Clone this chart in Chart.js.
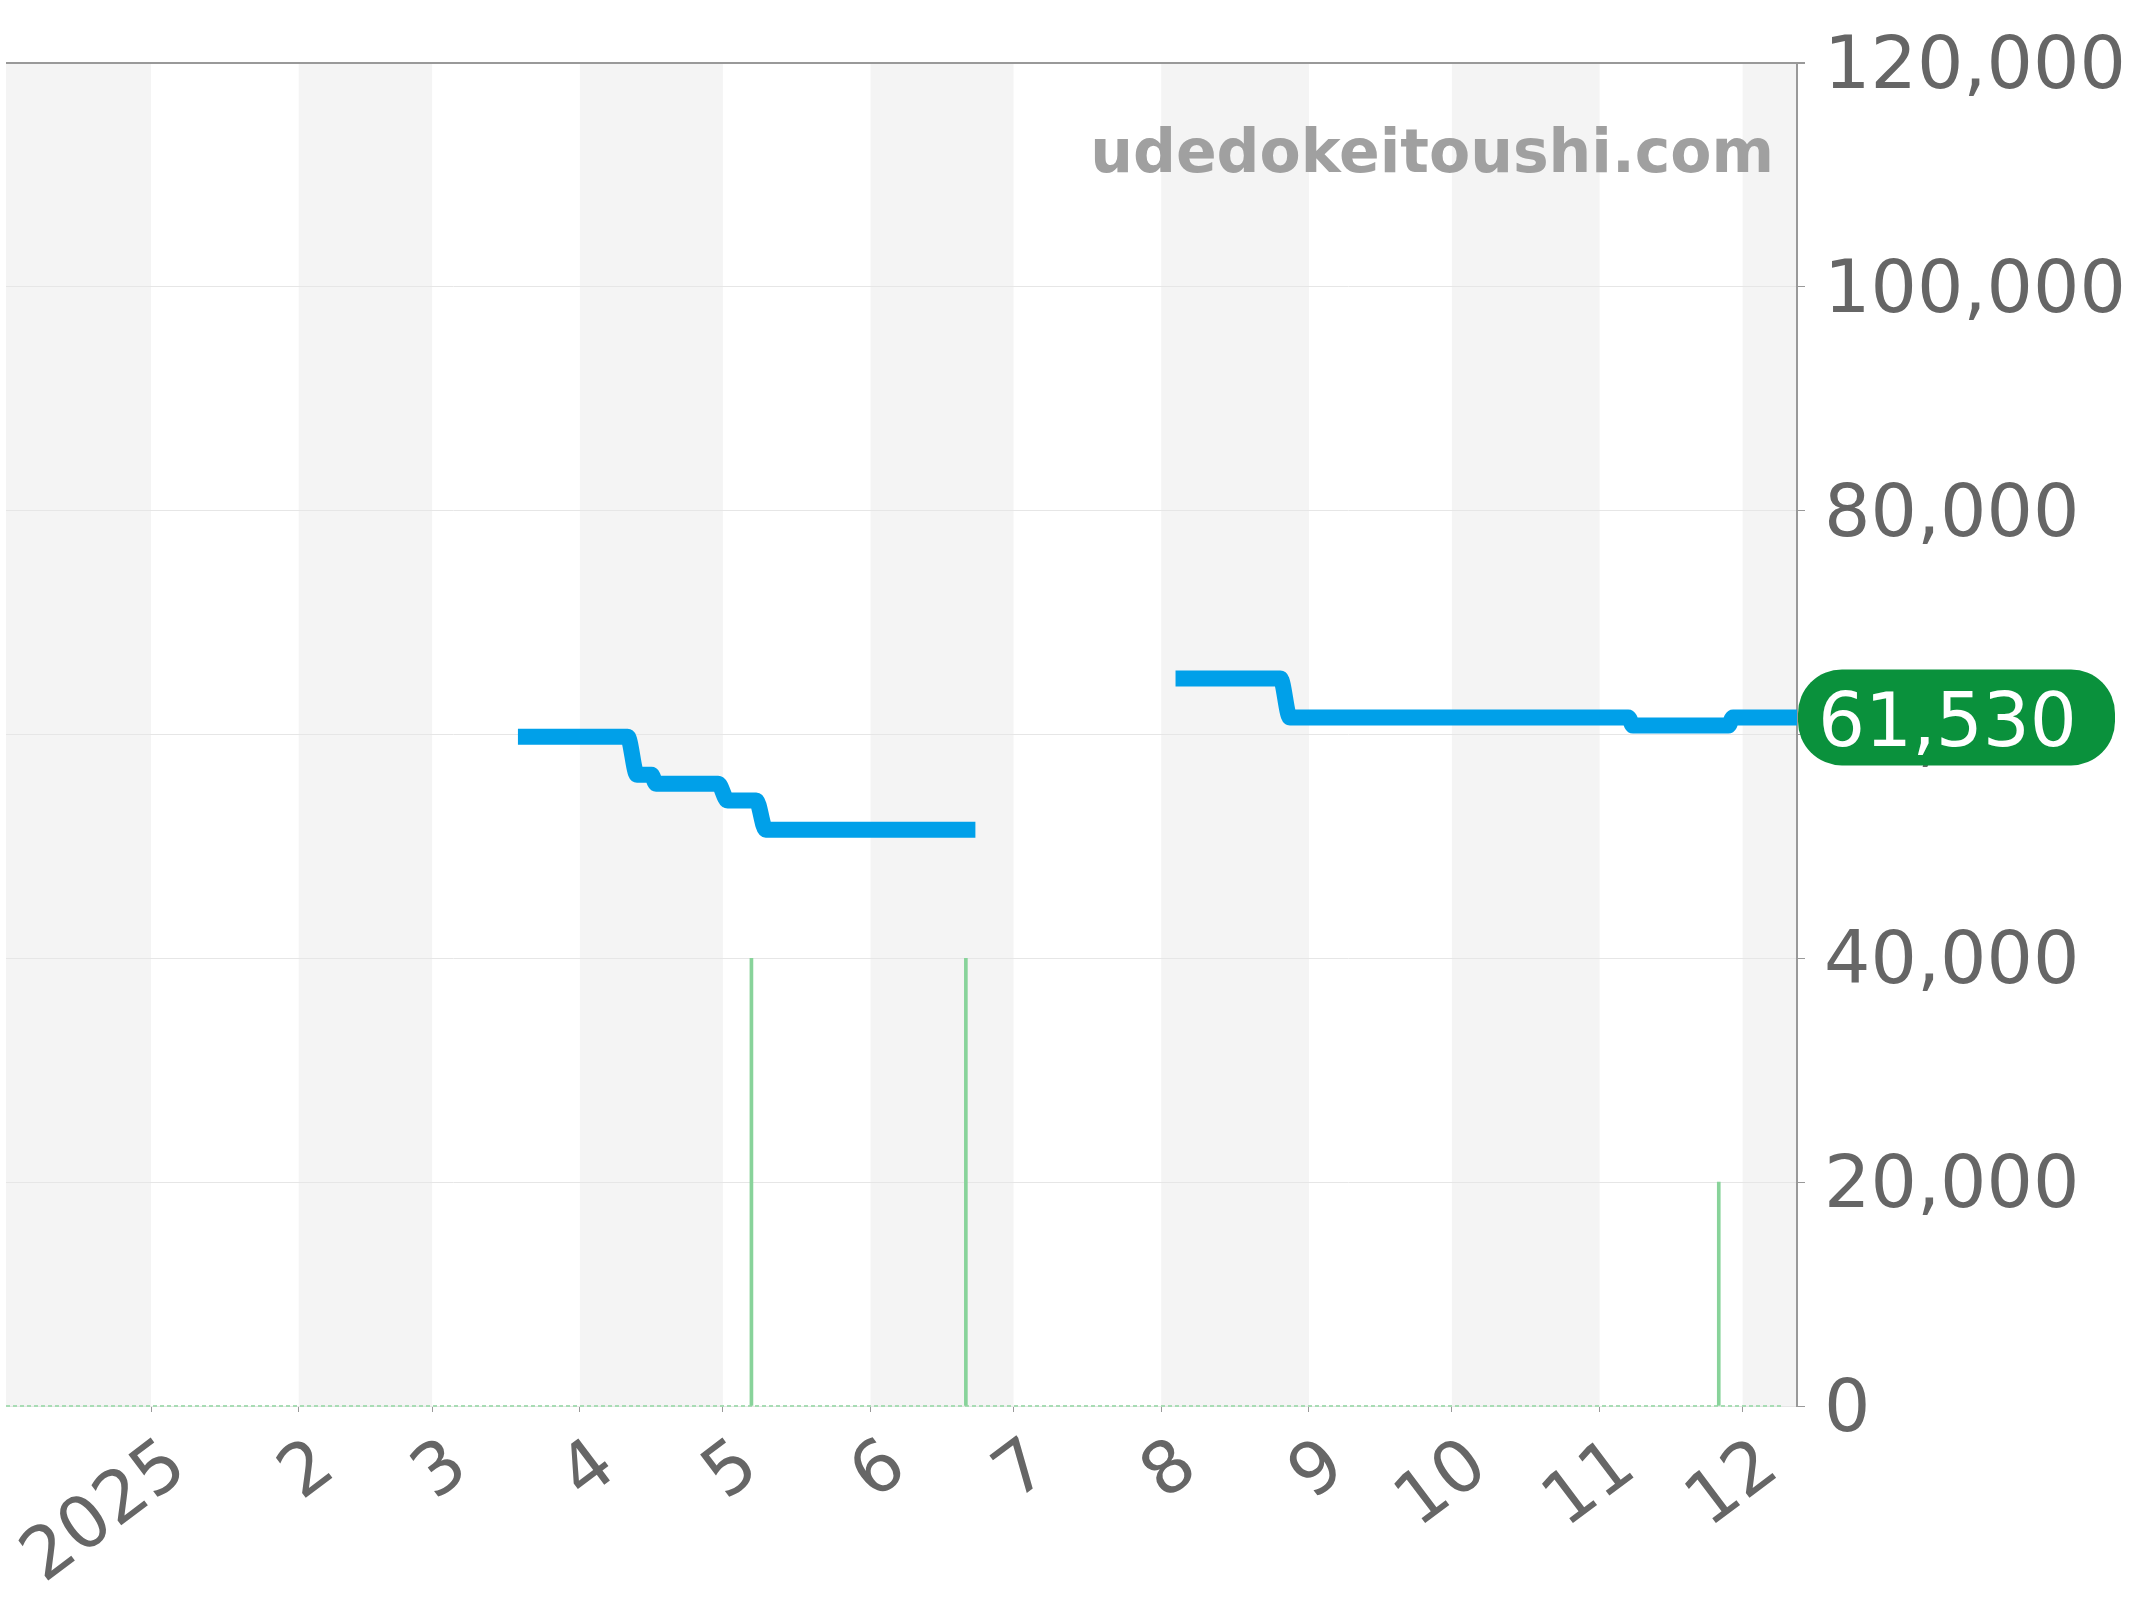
<!DOCTYPE html>
<html><head><meta charset="utf-8">
<script src="https://cdn.jsdelivr.net/npm/chart.js@4/dist/chart.umd.min.js"></script>
<style>html,body{margin:0;padding:0;background:#fff;}#wrap{width:2144px;height:1600px;}</style>
</head><body><div id="wrap"><canvas id="c" width="2144" height="1600"></canvas></div>
<script>
// ---- data ----
const priceDates = ['2025-03-19','2025-04-11','2025-04-13','2025-04-16','2025-04-17','2025-04-30','2025-05-02','2025-05-08','2025-05-10','2025-06-23',
                    '2025-07-15',
                    '2025-08-04','2025-08-26','2025-08-28','2025-11-07','2025-11-08','2025-11-28','2025-11-29','2025-12-13'];
const priceValues = [59800,59800,56400,56400,55600,55600,54100,54100,51500,51500,
                     null,
                     65000,65000,61530,61530,60800,60800,61530,61530];
const volumeDates = ['2025-05-07','2025-06-21','2025-11-26'];
const volumeValues = [40000,40000,20000];
const monthTickDates = ['2025-01-01','2025-02-01','2025-03-01','2025-04-01','2025-05-01','2025-06-01','2025-07-01','2025-08-01','2025-09-01','2025-10-01','2025-11-01','2025-12-01'];
const monthTickLabels = ['2025','2','3','4','5','6','7','8','9','10','11','12'];
const shadedMonthStarts = ['2024-12-01','2025-02-01','2025-04-01','2025-06-01','2025-08-01','2025-10-01','2025-12-01'];
const yTickValues = [0,20000,40000,60000,80000,100000,120000];
const xRange = ['2024-12-01T13:40:00','2025-12-12T10:00:00'];
const lastPrice = 61530;
const watermarkText = 'udedokeitoushi.com';

// ---- helpers ----
const EPOCH = Date.UTC(2025,0,1);
const day = s => (Date.parse(s.length === 10 ? s + 'T00:00:00Z' : s + 'Z') - EPOCH) / 864e5;
const nextMonth = s => { const d = new Date(s + 'T00:00:00Z'); return (Date.UTC(d.getUTCFullYear(), d.getUTCMonth()+1, 1) - EPOCH) / 864e5; };
const FONT = "'DejaVu Sans', sans-serif";

const bandsPlugin = {
  id: 'bands',
  beforeDraw(chart) {
    const {ctx, chartArea: a, scales: {x}} = chart;
    ctx.save();
    ctx.fillStyle = '#f4f4f4';
    shadedMonthStarts.forEach(s => {
      let x0 = Math.max(x.getPixelForValue(day(s)), a.left);
      let x1 = Math.min(x.getPixelForValue(nextMonth(s)), a.right);
      if (x1 > x0) ctx.fillRect(x0, a.top, x1 - x0, a.bottom - a.top);
    });
    ctx.restore();
  },
  beforeDatasetsDraw(chart) {
    const {ctx, chartArea: a, scales: {y}} = chart;
    ctx.save();
    ctx.font = "bold 60px " + FONT;
    ctx.fillStyle = '#a0a0a0';
    ctx.textAlign = 'right';
    ctx.textBaseline = 'alphabetic';
    ctx.fillText(watermarkText, a.right - 23, a.top + 109);
    const y0 = y.getPixelForValue(0);
    ctx.strokeStyle = '#a8dcb4';
    ctx.lineWidth = 2;
    ctx.setLineDash([4,3]);
    ctx.beginPath();
    ctx.moveTo(a.left, y0);
    ctx.lineTo(a.right - 15, y0);
    ctx.stroke();
    ctx.restore();
  },
  afterDraw(chart) {
    const {ctx, scales: {y}} = chart;
    const cy = y.getPixelForValue(lastPrice);
    const x0 = y.left + 1, x1 = x0 + 317, h = 96, r = 44;
    ctx.save();
    ctx.fillStyle = '#0a913c';
    ctx.beginPath();
    ctx.roundRect(x0, cy - h/2, x1 - x0, h, r);
    ctx.fill();
    ctx.fillStyle = '#ffffff';
    ctx.font = "74px " + FONT;
    ctx.textAlign = 'left';
    ctx.textBaseline = 'alphabetic';
    ctx.fillText(lastPrice.toLocaleString('en-US'), x0 + 20, cy + 29);
    ctx.restore();
  }
};

new Chart(document.getElementById('c'), {
  type: 'line',
  data: {
    datasets: [
      {
        type: 'line',
        data: priceDates.map((d, i) => ({x: day(d), y: priceValues[i]})),
        borderColor: '#00a0e9',
        borderWidth: 16,
        pointRadius: 0,
        borderJoinStyle: 'round',
        borderCapStyle: 'butt',
        cubicInterpolationMode: 'monotone',
        spanGaps: false,
        fill: false,
        order: 1
      },
      {
        type: 'bar',
        data: volumeDates.map((d, i) => ({x: day(d), y: volumeValues[i]})),
        backgroundColor: '#88d39a',
        barThickness: 3,
        order: 2
      }
    ]
  },
  options: {
    responsive: false,
    animation: false,
    devicePixelRatio: 1,
    layout: {padding: {left: 6, top: 63, right: 0, bottom: 0}},
    plugins: {legend: {display: false}, tooltip: {enabled: false}},
    scales: {
      x: {
        type: 'linear',
        min: day(xRange[0]),
        max: day(xRange[1]),
        offset: false,
        afterBuildTicks: a => { a.ticks = monthTickDates.map(d => ({value: day(d)})); },
        ticks: {
          autoSkip: false, minRotation: 37, maxRotation: 37,
          font: {family: FONT, size: 72}, color: '#666', padding: 12, labelOffset: 28,
          callback: (v, i) => monthTickLabels[i]
        },
        grid: {display: true, offset: false, drawOnChartArea: false, drawTicks: true, tickLength: 6, color: '#999'},
        border: {display: false},
        afterFit: s => { s.height = 194; s.paddingLeft = 0; s.paddingRight = 0; }
      },
      y: {
        position: 'right',
        min: 0, max: 120000,
        afterBuildTicks: a => { a.ticks = yTickValues.map(v => ({value: v})); },
        ticks: {
          font: {family: FONT, size: 73}, color: '#666', padding: 19, labelOffset: 6,
          callback: v => v.toLocaleString('en-US')
        },
        grid: {
          color: c => (c.tick && c.tick.value === 120000) ? '#999' : '#e6e6e6',
          lineWidth: c => (c.tick && c.tick.value === 120000) ? 2 : 1,
          tickColor: '#999', tickLength: 8
        },
        border: {display: true, color: '#999', width: 2},
        afterFit: s => { s.width = 347; s.paddingTop = 0; s.paddingBottom = 0; }
      }
    }
  },
  plugins: [bandsPlugin]
});
</script></body></html>
